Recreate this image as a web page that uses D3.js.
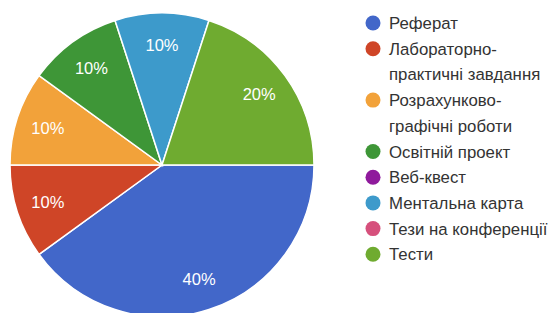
<!DOCTYPE html>
<html><head><meta charset="utf-8">
<script src="https://cdn.jsdelivr.net/npm/d3@7"></script>
<style>
html,body{margin:0;padding:0;background:#fff;}
svg{display:block;}
</style></head>
<body>
<svg id="chart" width="548" height="313"></svg>
<script>
const categories = ["Реферат","Лабораторно-практичні завдання","Розрахунково-графічні роботи","Освітній проект","Веб-квест","Ментальна карта","Тези на конференції","Тести"];
const values = [40,10,10,10,0,10,0,20];
const colors = ["#4267c9","#cf4527","#f2a23a","#3e9637","#8f1a9c","#3d9acb","#d6507c","#6fab30"];

const W = 548, H = 313;
const cx = 162, cy = 165, R = 152;
const svg = d3.select("#chart");
const font = "'Liberation Sans', Arial, sans-serif";

const total = d3.sum(values);
const pie = d3.pie().value(d => d.v).sort(null)
  .startAngle(Math.PI/2).endAngle(Math.PI/2 + 2*Math.PI);
const data = categories.map((c,i)=>({c, v: values[i], col: colors[i]}));
const arcs = pie(data);
const arc = d3.arc().innerRadius(0).outerRadius(R);
const labelArc = d3.arc().innerRadius(R*0.79).outerRadius(R*0.79);

const g = svg.append("g").attr("transform",`translate(${cx},${cy})`);
g.selectAll("path").data(arcs.filter(d=>d.data.v>0)).join("path")
  .attr("d", arc).attr("fill", d=>d.data.col)
  .attr("stroke","#fff").attr("stroke-width",1.5);
g.selectAll("text").data(arcs.filter(d=>d.data.v>0)).join("text")
  .attr("transform", d=>`translate(${labelArc.centroid(d)})`)
  .attr("text-anchor","middle").attr("dominant-baseline","central")
  .attr("fill","#fff").attr("font-family",font).attr("font-size",16.5)
  .text(d=>Math.round(d.data.v/total*100)+"%");

// legend
const lx = 373, tx = 389, ly0 = 23, lineH = 25.7, maxW = 162, fs = 16.8;
const leg = svg.append("g");
let line = 0;
data.forEach((d,i)=>{
  const y = ly0 + line*lineH;
  leg.append("circle").attr("cx",lx).attr("cy",y).attr("r",7.5).attr("fill",d.col);
  const t = leg.append("text").attr("x",tx).attr("y",y)
    .attr("font-family",font).attr("font-size",fs).attr("fill","#333")
    .attr("dominant-baseline","central");
  const tokens = d.c.match(/[^\s-]+-?\s*/g);
  let cur = "", lines = [];
  const probe = leg.append("text").attr("font-family",font).attr("font-size",fs).attr("visibility","hidden");
  tokens.forEach(tok=>{
    const test = cur + tok;
    probe.text(test.trim());
    if (cur && probe.node().getComputedTextLength() > maxW) { lines.push(cur.trim()); cur = tok; }
    else cur = test;
  });
  lines.push(cur.trim());
  probe.remove();
  lines.forEach((ln,k)=>{
    t.append("tspan").attr("x",tx).attr("y", y + k*lineH).text(ln);
  });
  line += lines.length;
});
</script>
</body></html>
